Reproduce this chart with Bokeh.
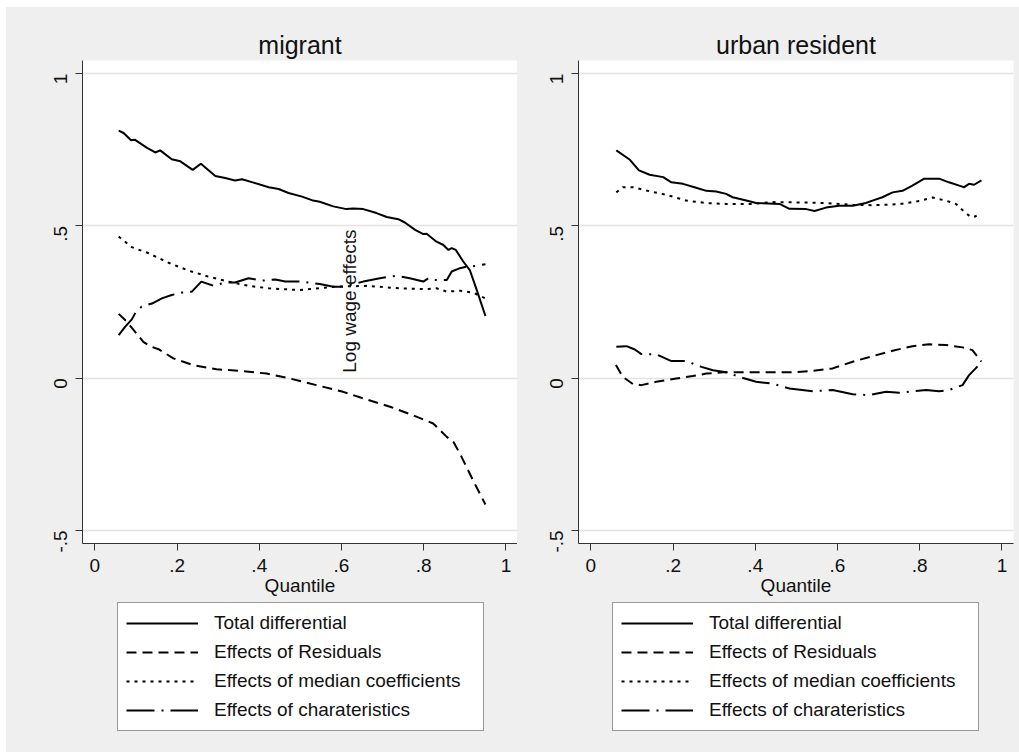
from math import pi

from bokeh.embed import file_html
from bokeh.layouts import column, row
from bokeh.models import FixedTicker, Label, Legend, LegendItem, Range1d
from bokeh.plotting import figure
from bokeh.resources import INLINE

# ---- data: quantile decomposition of the log wage gap -----------------
# migrant panel
mig_total_q = [0.058, 0.070, 0.088, 0.097, 0.127, 0.147, 0.159, 0.187, 0.208, 0.238,
               0.258, 0.293, 0.317, 0.341, 0.358, 0.386, 0.423, 0.447, 0.471, 0.504,
               0.531, 0.547, 0.580, 0.612, 0.628, 0.653, 0.685, 0.710, 0.738, 0.754,
               0.779, 0.799, 0.807, 0.831, 0.847, 0.860, 0.868, 0.878, 0.896, 0.912,
               0.929, 0.950]
mig_total_v = [0.813, 0.805, 0.781, 0.783, 0.756, 0.741, 0.748, 0.719, 0.712, 0.684,
               0.704, 0.664, 0.657, 0.649, 0.653, 0.642, 0.627, 0.621, 0.608, 0.596,
               0.583, 0.579, 0.564, 0.555, 0.557, 0.555, 0.542, 0.529, 0.522, 0.511,
               0.487, 0.473, 0.474, 0.448, 0.438, 0.421, 0.427, 0.421, 0.383, 0.355,
               0.289, 0.204]

mig_resid_q = [0.058, 0.078, 0.098, 0.118, 0.134, 0.155, 0.191, 0.239, 0.296, 0.353,
               0.418, 0.474, 0.539, 0.604, 0.661, 0.718, 0.774, 0.823, 0.856, 0.872,
               0.888, 0.920, 0.950]
mig_resid_v = [0.211, 0.185, 0.152, 0.119, 0.105, 0.095, 0.065, 0.043, 0.029, 0.024,
               0.015, -0.001, -0.023, -0.045, -0.070, -0.094, -0.122, -0.149, -0.193,
               -0.209, -0.248, -0.336, -0.415]

mig_med_q = [0.058, 0.090, 0.131, 0.179, 0.228, 0.277, 0.325, 0.374, 0.423, 0.499,
             0.580, 0.661, 0.742, 0.807, 0.831, 0.856, 0.888, 0.920, 0.941, 0.950]
mig_med_v = [0.465, 0.430, 0.410, 0.379, 0.353, 0.333, 0.317, 0.303, 0.295, 0.289,
             0.300, 0.303, 0.295, 0.292, 0.295, 0.284, 0.287, 0.281, 0.267, 0.262]

mig_char_q = [0.058, 0.074, 0.090, 0.100, 0.114, 0.139, 0.163, 0.187, 0.212, 0.236,
              0.259, 0.289, 0.317, 0.341, 0.374, 0.406, 0.439, 0.463, 0.504, 0.547,
              0.580, 0.604, 0.653, 0.693, 0.734, 0.766, 0.799, 0.811, 0.823, 0.856,
              0.868, 0.888, 0.904, 0.925, 0.950]
mig_char_v = [0.141, 0.169, 0.193, 0.218, 0.235, 0.245, 0.262, 0.273, 0.281, 0.284,
              0.317, 0.303, 0.314, 0.314, 0.328, 0.320, 0.324, 0.317, 0.317, 0.309,
              0.300, 0.300, 0.317, 0.328, 0.336, 0.328, 0.317, 0.328, 0.322, 0.322,
              0.350, 0.361, 0.366, 0.368, 0.374]

# urban resident panel
urb_total_q = [0.062, 0.095, 0.117, 0.143, 0.176, 0.196, 0.224, 0.252, 0.281, 0.305,
               0.329, 0.345, 0.378, 0.402, 0.459, 0.483, 0.524, 0.544, 0.572, 0.604,
               0.637, 0.669, 0.685, 0.709, 0.734, 0.758, 0.782, 0.811, 0.847, 0.871,
               0.896, 0.908, 0.920, 0.932, 0.950]
urb_total_v = [0.748, 0.717, 0.682, 0.668, 0.660, 0.643, 0.638, 0.627, 0.615, 0.613,
               0.605, 0.594, 0.583, 0.575, 0.572, 0.556, 0.555, 0.549, 0.560, 0.566,
               0.566, 0.575, 0.583, 0.594, 0.610, 0.615, 0.632, 0.655, 0.655, 0.643,
               0.632, 0.627, 0.638, 0.635, 0.649]

urb_resid_q = [0.061, 0.078, 0.103, 0.123, 0.159, 0.208, 0.248, 0.281, 0.321, 0.362,
               0.426, 0.491, 0.540, 0.588, 0.637, 0.685, 0.734, 0.782, 0.823, 0.863,
               0.904, 0.928, 0.950]
urb_resid_v = [0.043, 0.004, -0.020, -0.023, -0.012, -0.001, 0.007, 0.015, 0.019, 0.019,
               0.019, 0.019, 0.024, 0.032, 0.054, 0.072, 0.090, 0.105, 0.111, 0.109,
               0.101, 0.092, 0.054]

urb_med_q = [0.062, 0.078, 0.103, 0.135, 0.184, 0.232, 0.281, 0.329, 0.394, 0.442,
             0.507, 0.572, 0.637, 0.685, 0.750, 0.799, 0.831, 0.863, 0.888, 0.908,
             0.924, 0.935, 0.948]
urb_med_v = [0.610, 0.627, 0.627, 0.616, 0.602, 0.583, 0.575, 0.572, 0.572, 0.578,
             0.577, 0.575, 0.569, 0.568, 0.571, 0.582, 0.593, 0.583, 0.572, 0.547,
             0.529, 0.531, 0.542]

urb_char_q = [0.062, 0.087, 0.107, 0.123, 0.159, 0.196, 0.232, 0.269, 0.297, 0.329,
              0.362, 0.402, 0.442, 0.483, 0.540, 0.588, 0.637, 0.677, 0.718, 0.750,
              0.815, 0.847, 0.871, 0.904, 0.920, 0.936, 0.950]
urb_char_v = [0.103, 0.105, 0.094, 0.079, 0.078, 0.056, 0.056, 0.037, 0.026, 0.019,
              0.004, -0.012, -0.018, -0.034, -0.043, -0.039, -0.053, -0.056, -0.045,
              -0.048, -0.039, -0.043, -0.039, -0.023, 0.010, 0.032, 0.054]

series_labels = ["Total differential", "Effects of Residuals",
                 "Effects of median coefficients", "Effects of charateristics"]
panel_titles = ["migrant", "urban resident"]
x_ticks = [0, 0.2, 0.4, 0.6, 0.8, 1]
x_tick_labels = ["0", ".2", ".4", ".6", ".8", "1"]
y_ticks = [-0.5, 0, 0.5, 1]
y_tick_labels = ["-.5", "0", ".5", "1"]
y_title = "Log wage effects"
x_title = "Quantile"

# ---- styling -----------------------------------------------------------
FONT = "Liberation Sans"
BG = "#EFEFEF"
INK = "#111111"
DASHES = ["solid", "10 6", "3 5", "28 7 2 7"]
LINE_W = 2
NAN = float("nan")


def make_panel(title, series, border_left, border_right):
    p = figure(
        frame_width=435, frame_height=483,
        min_border_left=border_left, min_border_right=border_right,
        min_border_top=53, min_border_bottom=57,
        x_range=Range1d(-0.03, 1.028), y_range=Range1d(-0.543, 1.043),
        output_backend="svg", toolbar_location=None,
        background_fill_color="white", border_fill_color=BG,
        outline_line_color=None,
    )
    p.title.text = title
    p.title.align = "center"
    p.title.text_font = FONT
    p.title.text_font_size = "25px"
    p.title.text_font_style = "normal"
    p.title.text_color = INK
    p.title.standoff = 3

    p.xgrid.visible = False
    p.ygrid.grid_line_color = "#E3E3E3"
    p.ygrid.grid_line_width = 1.5
    p.ygrid.ticker = FixedTicker(ticks=y_ticks)

    p.xaxis.ticker = FixedTicker(ticks=x_ticks)
    p.xaxis.major_label_overrides = dict(zip(x_ticks, x_tick_labels))
    p.yaxis.ticker = FixedTicker(ticks=y_ticks)
    p.yaxis.major_label_overrides = dict(zip(y_ticks, y_tick_labels))
    p.yaxis.major_label_orientation = pi / 2
    p.xaxis.axis_label = x_title
    p.xaxis.axis_label_standoff = 0
    p.xaxis.axis_label_text_font = FONT
    p.xaxis.axis_label_text_font_size = "19px"
    p.xaxis.axis_label_text_font_style = "normal"
    p.xaxis.axis_label_text_color = INK
    for ax in (p.xaxis, p.yaxis):
        ax.axis_line_color = "#333333"
        ax.major_tick_line_color = "#333333"
        ax.major_tick_out = 7
        ax.major_tick_in = 0
        ax.minor_tick_out = 0
        ax.minor_tick_in = 0
        ax.major_label_text_font = FONT
        ax.major_label_text_font_size = "19px"
        ax.major_label_text_color = INK
    p.xaxis.major_label_standoff = 8
    p.yaxis.major_label_standoff = 15

    for (q, v), dash in zip(series, DASHES):
        p.line(q, v, line_color="black", line_width=LINE_W, line_dash=dash)
    return p


def make_key(width, box_x):
    """Strip under a panel holding the boxed key of the four line styles."""
    k = figure(
        width=width, height=152, title=None,
        min_border_left=0, min_border_right=0, min_border_top=0, min_border_bottom=0,
        x_range=Range1d(0, 1), y_range=Range1d(0, 1),
        x_axis_type=None, y_axis_type=None,
        output_backend="svg", toolbar_location=None,
        background_fill_color=BG, border_fill_color=BG, outline_line_color=None,
    )
    k.grid.visible = False
    items = []
    for label, dash in zip(series_labels, DASHES):
        # placeholder renderer: only its line style is shown, in the key
        r = k.line(x=[NAN], y=[NAN], line_color="black", line_width=LINE_W,
                   line_dash=dash)
        items.append(LegendItem(label=label, renderers=[r]))
    legend = Legend(
        items=items, location=(box_x, 21), orientation="vertical",
        glyph_width=72, glyph_height=24, label_height=24, label_width=261,
        label_standoff=16, spacing=5, padding=8, margin=0,
        label_text_font=FONT, label_text_font_size="19px", label_text_color=INK,
        border_line_color="#333333", border_line_width=1,
        background_fill_color="white", background_fill_alpha=1,
    )
    k.add_layout(legend, "center")
    return k


left = make_panel(panel_titles[0],
                  [(mig_total_q, mig_total_v), (mig_resid_q, mig_resid_v),
                   (mig_med_q, mig_med_v), (mig_char_q, mig_char_v)], 76, 0)
right = make_panel(panel_titles[1],
                   [(urb_total_q, urb_total_v), (urb_resid_q, urb_resid_v),
                    (urb_med_q, urb_med_v), (urb_char_q, urb_char_v)], 61, 6)

# shared y title, drawn across the first panel
left.add_layout(Label(x=0.62, y=0.253, text=y_title, angle=pi / 2,
                      text_align="center", text_baseline="middle",
                      text_font=FONT, text_font_size="19px", text_color=INK))

layout = row(column(left, make_key(511, 35)),
             column(right, make_key(502, 34)),
             margin=(7, 0, 0, 6), styles={"background-color": BG})

with open("out.html", "w") as f:
    f.write(file_html(layout, INLINE, title="Log wage effects"))
